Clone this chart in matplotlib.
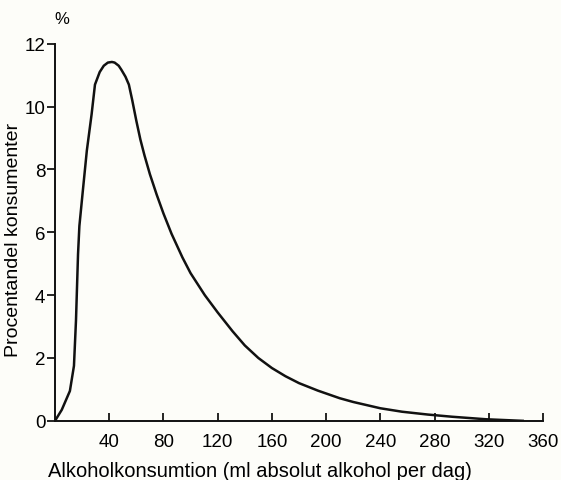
import numpy as np
import matplotlib.pyplot as plt

plt.rcParams['font.family'] = ['Liberation Sans', 'DejaVu Sans']

# (ml absolut alkohol per dag, procent konsumenter)
konsumtion = [0, 5, 11, 14, 15.5, 17, 18, 20.5, 23.5, 27, 29.5, 33, 36, 39, 42, 44,
              47, 49, 52, 54.5, 57, 60, 63, 66, 70, 75, 80, 86, 94, 100, 110.5,
              120, 131, 140, 150, 160, 170, 180, 194, 210, 220, 240, 256,
              275, 293, 318, 345]
andel = [0, 0.35, 0.95, 1.75, 3.2, 5.3, 6.2, 7.3, 8.6, 9.75, 10.7, 11.1, 11.3, 11.4,
         11.42, 11.4, 11.3, 11.17, 10.95, 10.7, 10.2, 9.55, 8.95, 8.45, 7.85, 7.2,
         6.6, 5.95, 5.2, 4.7, 4.0, 3.45, 2.85, 2.4, 2.0, 1.68, 1.42, 1.2, 0.96,
         0.72, 0.6, 0.4, 0.29, 0.2, 0.13, 0.05, 0.0]

xticks = [40, 80, 120, 160, 200, 240, 280, 320, 360]
yticks = [0, 2, 4, 6, 8, 10, 12]

fig = plt.figure(figsize=(5.61, 4.81), dpi=100)
fig.patch.set_facecolor('#fdfdf9')
ax = fig.add_axes([0.098, 0.123, 0.870, 0.784])
ax.set_facecolor('#fdfdf9')

ax.plot(konsumtion, andel, color='#111111', lw=1.8, solid_joinstyle='round')

ax.set_xlim(0, 360)
ax.set_ylim(0, 12)
ax.set_xticks(xticks)
ax.set_yticks(yticks)
ax.tick_params(axis='x', direction='in', length=6, width=1.2, labelsize=13.5, pad=9)
ax.tick_params(axis='y', direction='out', length=6, width=1.2, labelsize=13.5, pad=1)

for s in ['top', 'right']:
    ax.spines[s].set_visible(False)
for s in ['left', 'bottom']:
    ax.spines[s].set_linewidth(1.4)
    ax.spines[s].set_color('#111111')

# axeltexter placerade som i förlagan
fig.text(48 / 561, 1 - 477 / 481, 'Alkoholkonsumtion (ml absolut alkohol per dag)',
         fontsize=14.5, ha='left', va='baseline')
fig.text(14 / 561, 1 - 240 / 481, 'Procentandel konsumenter', fontsize=14,
         rotation=90, ha='center', va='center')
fig.text(62 / 561, 1 - 20 / 481, '%', fontsize=12, ha='center', va='center')

fig.savefig('out.png', dpi=100, facecolor=fig.get_facecolor())
